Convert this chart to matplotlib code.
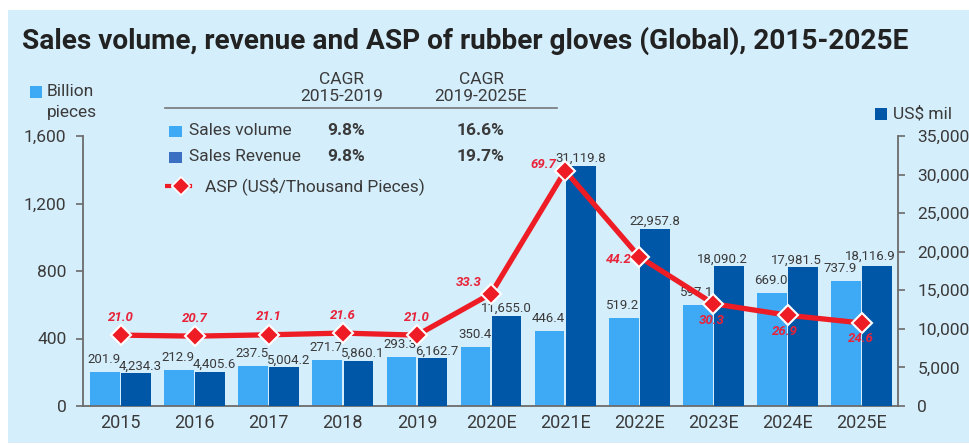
import matplotlib
matplotlib.use("Agg")
import matplotlib.pyplot as plt
from matplotlib.patches import Rectangle
from matplotlib.lines import Line2D
import numpy as np

years = ['2015', '2016', '2017', '2018', '2019', '2020E', '2021E', '2022E', '2023E', '2024E', '2025E']
volume = [201.9, 212.9, 237.5, 271.7, 293.3, 350.4, 446.4, 519.2, 597.1, 669.0, 737.9]
revenue = [4234.3, 4405.6, 5004.2, 5860.1, 6162.7, 11655.0, 31119.8, 22957.8, 18090.2, 17981.5, 18116.9]
asp = [21.0, 20.7, 21.1, 21.6, 21.0, 33.3, 69.7, 44.2, 30.3, 26.9, 24.6]
# offsets (px) of ASP labels from their markers
asp_off = [(0, 18), (0, 18), (0, 18), (0, 18), (0, 18), (-22, 11), (-22, 6), (-21, -3),
           (-2, -17), (-3, -16), (-1, -16)]

cagr_rows = ['Sales volume', 'Sales Revenue']
cagr_1519 = ['9.8%', '9.8%']
cagr_1925 = ['16.6%', '19.7%']

W, H = 969, 445
plt.rcParams['font.family'] = ['Roboto', 'DejaVu Sans']

C_BG = '#d5eefb'
C_LIGHT = '#3eaaf5'
C_DARK = '#0057a8'
C_RED = '#ee1c25'
C_LAB = '#e8233a'
C_TXT = '#3a3a3a'
C_AX = '#6b6b6b'

fig = plt.figure(figsize=(W / 100, H / 100), dpi=100)
fig.patch.set_facecolor('white')
fig.patches.append(Rectangle((8 / W, 2 / H), 1 - 8 / W, 433 / H, transform=fig.transFigure,
                             facecolor=C_BG, edgecolor='none', zorder=-5))


def fx(x):
    return x / W


def fy(y):
    return 1 - y / H


ax = fig.add_axes([fx(83), fy(406), (898 - 83) / W, (406 - 136) / H])
ax2 = ax.twinx()
ax3 = ax.twinx()
for a in (ax, ax2, ax3):
    a.set_facecolor('none')

x = np.arange(len(years))
w = 0.4
ax.bar(x - 0.21, volume, w, color=C_LIGHT, zorder=2)
ax2.bar(x + 0.21, revenue, w, color=C_DARK, zorder=2)
ax3.plot(x, asp, color=C_RED, lw=3.8, marker='D', ms=10, mfc=C_RED, mec='white', mew=1.5,
         zorder=5, clip_on=False)

ax.set_xlim(-0.506, 10.49)
ax.set_ylim(0, 1600)
ax2.set_ylim(0, 35000)
ax3.set_ylim(0, 80)
ax3.axis('off')

last = len(years) - 1
for i in range(len(years)):
    vdx = -6 if i == last else -1
    ax.annotate(f'{volume[i]:,.1f}', (x[i] - 0.21, volume[i]), xytext=(vdx, 6), textcoords='offset pixels',
                ha='center', va='bottom', fontsize=9.5, color=C_TXT)
    rdx = 4 if i < 5 else (0 if i < 8 else -7)
    rdy = 3 if i == last else 1
    ax2.annotate(f'{revenue[i]:,.1f}', (x[i] + 0.21, revenue[i]), xytext=(rdx, rdy), textcoords='offset pixels',
                 ha='center', va='bottom', fontsize=9.5, color=C_TXT)
    dx, dy = asp_off[i]
    ax3.annotate(f'{asp[i]:.1f}', (x[i], asp[i]), xytext=(dx, dy), textcoords='offset pixels',
                 ha='center', va='center', fontsize=9.5, color=C_LAB, fontweight='bold',
                 fontstyle='italic', zorder=6)

ax.set_yticks([0, 400, 800, 1200, 1600])
ax.set_yticklabels(['0', '400', '800', '1,200', '1,600'])
ax2.set_yticks(range(0, 35001, 5000))
ax2.set_yticklabels([f'{v:,}' for v in range(0, 35001, 5000)])
ax.set_xticks(x)
ax.set_xticklabels(years)
ax.tick_params(axis='x', length=0, pad=6, labelsize=13, labelcolor=C_TXT)
ax.tick_params(axis='y', length=5, width=1.2, color=C_AX, pad=7, labelsize=12.5, labelcolor=C_TXT)
ax2.tick_params(axis='y', length=5, width=1.2, color=C_AX, pad=9, labelsize=12.5, labelcolor=C_TXT)
for a in (ax, ax2):
    for s in a.spines.values():
        s.set_visible(False)
ax.spines['left'].set_visible(True)
ax.spines['bottom'].set_visible(True)
ax2.spines['right'].set_visible(True)
for s in (ax.spines['left'], ax.spines['bottom'], ax2.spines['right']):
    s.set_color(C_AX)
    s.set_linewidth(1.3)

# title
fig.text(fx(22), fy(41), 'Sales volume, revenue and ASP of rubber gloves (Global), 2015-2025E',
         fontweight='bold', fontsize=20.2, color='#222222', va='center', ha='left')

# axis unit labels
fig.patches.append(Rectangle((fx(30), fy(98)), 12 / W, 12 / H, transform=fig.transFigure,
                             facecolor=C_LIGHT, edgecolor='none'))
fig.text(fx(47), fy(92), 'Billion', fontsize=12.5, color=C_TXT, va='center')
fig.text(fx(47), fy(113), 'pieces', fontsize=12.5, color=C_TXT, va='center')
fig.patches.append(Rectangle((fx(875), fy(120)), 12 / W, 12 / H, transform=fig.transFigure,
                             facecolor=C_DARK, edgecolor='none'))
fig.text(fx(893), fy(114), 'US$ mil', fontsize=12.5, color=C_TXT, va='center')

# CAGR legend table
fig.text(fx(342), fy(88), 'CAGR\n2015-2019', fontsize=12.5, color=C_TXT, ha='center', va='center',
         linespacing=1.15)
fig.text(fx(481), fy(88), 'CAGR\n2019-2025E', fontsize=12.5, color=C_TXT, ha='center', va='center',
         linespacing=1.15)
fig.lines.append(Line2D([fx(165), fx(557)], [fy(108), fy(108)], transform=fig.transFigure,
                        color='#777777', lw=1.2))
sq_cols = [C_LIGHT, '#3b6fc2']
for j, name in enumerate(cagr_rows):
    yy = 131 + 26 * j
    fig.patches.append(Rectangle((fx(169), fy(yy + 6)), 13 / W, 11 / H, transform=fig.transFigure,
                                 facecolor=sq_cols[j], edgecolor='none'))
    fig.text(fx(189), fy(yy), name, fontsize=12.5, color=C_TXT, va='center')
    fig.text(fx(346), fy(yy), cagr_1519[j], fontsize=12.5, fontweight='bold', color=C_TXT,
             ha='center', va='center')
    fig.text(fx(480), fy(yy), cagr_1925[j], fontsize=12.5, fontweight='bold', color=C_TXT,
             ha='center', va='center')
fig.lines.append(Line2D([fx(165), fx(196)], [fy(186), fy(186)], transform=fig.transFigure,
                        color=C_RED, lw=3, ls=(0, (1.5, 1.0))))
fig.lines.append(Line2D([fx(180.5)], [fy(186)], transform=fig.transFigure, marker='D', ms=9,
                        mfc=C_RED, mec='white', mew=1.2, lw=0))
fig.text(fx(205), fy(186), 'ASP (US$/Thousand Pieces)', fontsize=12.5, color=C_TXT, va='center')

fig.savefig('out.png', dpi=100)
